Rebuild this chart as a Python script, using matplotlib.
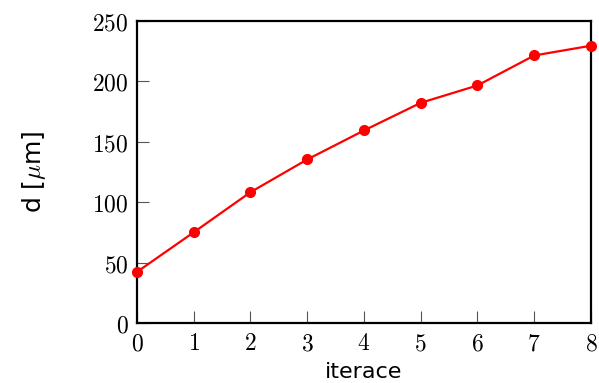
import matplotlib
matplotlib.use("Agg")
import matplotlib.pyplot as plt

iterations = [0, 1, 2, 3, 4, 5, 6, 7, 8]
d_values = [42.3, 75.1, 108.3, 135.4, 159.4, 182.3, 196.7, 221.5, 229.6]
x_ticks = [0, 1, 2, 3, 4, 5, 6, 7, 8]
y_ticks = [0, 50, 100, 150, 200, 250]

plt.rcParams['mathtext.fontset'] = 'cm'

fig = plt.figure(figsize=(5.99, 3.83), dpi=100)
ax = fig.add_axes([0.2287, 0.1567, 0.7579, 0.7883])
ax.plot(iterations, d_values, color='#ff0000', lw=1.6, marker='o', ms=7,
        clip_on=False, zorder=3)
ax.set_xlim(0, 8)
ax.set_ylim(0, 250)
ax.set_xticks(x_ticks)
ax.set_yticks(y_ticks)
ax.set_xticklabels([f'${t}$' for t in x_ticks], fontsize=17)
ax.set_yticklabels([f'${t}$' for t in y_ticks], fontsize=17)
ax.tick_params(direction='in', length=8.5, width=0.8, color='#555555', pad=6)
for s in ax.spines.values():
    s.set_linewidth(1.6)
ax.set_xlabel('iterace', fontsize=16, labelpad=5, family='DejaVu Sans')
ax.set_ylabel(r'd [$\mu$m]', fontsize=18, labelpad=32, family='DejaVu Sans')
fig.savefig('out.png', dpi=100)
